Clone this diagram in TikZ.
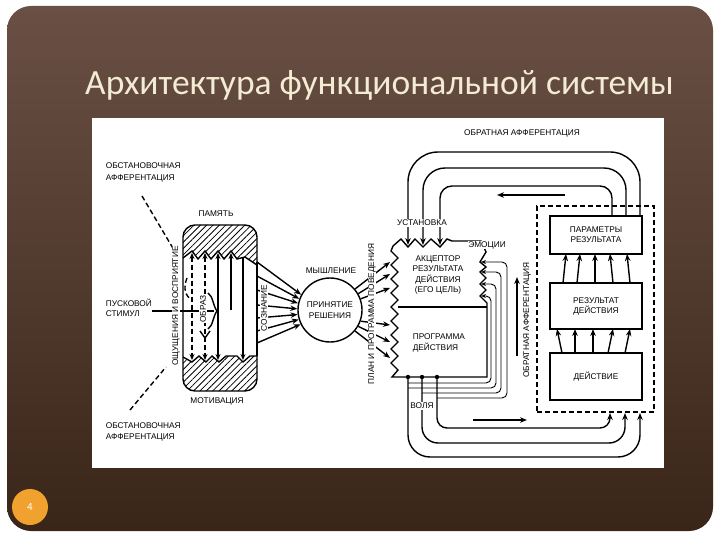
\documentclass[tikz,border=0pt]{standalone}
\usepackage{fontspec}
\setmainfont{Liberation Sans}
\newfontfamily\titlefont{Carlito}
\usetikzlibrary{arrows.meta,patterns.meta}
\definecolor{bgtop}{HTML}{6A5044}
\definecolor{bgbot}{HTML}{3A2519}
\definecolor{titlecol}{HTML}{F3EBD2}
\definecolor{numcol}{HTML}{F0A12E}
\begin{document}
\begin{tikzpicture}[x=1pt,y=-1pt,
  lbl/.style={font=\fontsize{8.3}{10.5}\selectfont, inner sep=0.6pt, align=center, text=black},
  ln/.style={line width=1.4pt, draw=black},
  thin/.style={line width=0.9pt, draw=black, -{Stealth[length=5pt,width=4pt]}},
  arr/.style={ln, -{Stealth[length=7pt,width=5.5pt]}},
  dsh/.style={ln, dash pattern=on 5pt off 3pt},
  hatch/.style={pattern={Lines[angle=45,distance=4.5pt,line width=0.8pt]}},
  wbg/.style={fill=white},
  box/.style={draw, line width=1.4pt, minimum width=92pt, inner sep=0pt, align=center, font=\fontsize{8.3}{10}\selectfont}]
\useasboundingbox (0,0) rectangle (720,540);
\fill[white] (0,0) rectangle (720,540);
\shade[top color=bgtop,bottom color=bgbot, rounded corners=24] (7,6) rectangle (713,531);
\node[text=titlecol, font=\titlefont\fontsize{35.5}{40}\selectfont, anchor=base west, inner sep=0] (title) at (85,95) {Архитектура функциональной системы};
\node[fill=white, minimum width=572pt, minimum height=350pt, inner sep=0, anchor=north west] (panel) at (92,118) {};
\node[circle, fill=numcol, minimum size=36pt, text=white, font=\titlefont\fontsize{11}{12}\selectfont] (pg) at (30,507) {4};

% ---------- memory / motivation block
\begin{scope}
\clip[rounded corners=12] (183,225) rectangle (257,391);
\fill[hatch] (180,220) -- (260,220) -- (260,265) -- (257,265) -- (245,257) -- (237,259) -- (231,251) -- (224,259) -- (218,251) -- (211,259) -- (205,251) -- (198,259) -- (192,251) -- (183,258) -- (180,258) -- cycle;
\fill[hatch] (180,395) -- (260,395) -- (260,356) -- (250,356) -- (243,362) -- (237,356) -- (226,356) -- (219,362) -- (212,356) -- (206,362) -- (199,356) -- (192,362) -- (183,357) -- (180,357) -- cycle;
\end{scope}
\draw[ln] (183,258) -- (192,251) -- (198,259) -- (205,251) -- (211,259) -- (218,251) -- (224,259) -- (231,251) -- (237,259) -- (245,257) -- (257,265);
\draw[ln] (183,357) -- (192,362) -- (199,356) -- (206,362) -- (212,356) -- (219,362) -- (226,356) -- (237,356) -- (243,362) -- (250,356) -- (257,356);
\draw[ln, rounded corners=12] (183,225) rectangle (257,391);
\coordinate (mem) at (220,308);
\node[lbl] (pam) at (216,214) {ПАМЯТЬ};
\node[lbl] (mot) at (217,401) {МОТИВАЦИЯ};

\draw[dsh, {Stealth[length=6pt,width=5pt]}-{Stealth[length=6pt,width=5pt]}] (192,253) -- (192,360);
\draw[dsh, {Stealth[length=6pt,width=5pt]}-{Stealth[length=6pt,width=5pt]}] (205,253) -- (205,360);
\draw[ln, {Stealth[length=6pt,width=5pt]}-{Stealth[length=6pt,width=5pt]}] (218,253) -- (218,360);
\draw[ln, {Stealth[length=6pt,width=5pt]}-] (231,253) -- (231,310);
\draw[ln, -{Stealth[length=6pt,width=5pt]}] (243,258) -- (243,360);
\draw[ln] (257,262) -- (257,356);

% afferent inputs
\draw[dsh] (142,196) -- (174,250);
\draw[dsh] (187,278) .. controls (183,288) and (185,296) .. (192,300);
\draw[dsh] (130,410) -- (166,367);
\draw[ln] (152,311) -- (214,311);
\draw[ln] (208,293) .. controls (213,296) and (213,306) .. (217,311) .. controls (213,316) and (213,326) .. (208,329);
\draw[ln] (200,331) -- (205,338) -- (210,331);
\node[lbl, anchor=west, align=left, font=\fontsize{8.3}{12}\selectfont] (oa1) at (105,172) {ОБСТАНОВОЧНАЯ\\АФФЕРЕНТАЦИЯ};
\node[lbl, anchor=west, align=left] (ps) at (105,308) {ПУСКОВОЙ\\СТИМУЛ};
\node[lbl, anchor=west, align=left, font=\fontsize{8.3}{11}\selectfont] (oa2) at (105,432) {ОБСТАНОВОЧНАЯ\\АФФЕРЕНТАЦИЯ};
\node[lbl, wbg, rotate=90] (osh) at (176,306) {ОЩУЩЕНИЯ И ВОСПРИЯТИЕ};
\node[lbl, wbg, rotate=90] (obr) at (203,309) {ОБРАЗ};

% ---------- decision circle
\node[circle, draw, line width=1.4pt, minimum size=64pt, inner sep=0, lbl] (dec) at (330,310) {ПРИНЯТИЕ\\РЕШЕНИЯ};
\node[lbl] (mysh) at (331,271) {МЫШЛЕНИЕ};
\foreach \y/\a in {262/152,276/160,290/168,305/178,318/188,331/197,343/206}
  \draw[arr] (257,\y) -- (dec.\a);
\node[lbl, wbg, rotate=90] (soz) at (264,308) {СОЗНАНИЕ};

% ---------- acceptor / program block
\draw[ln] (393,246) -- (401,239) -- (408,247) -- (415,239) -- (423,247) -- (431,239) -- (440,247) -- (447,239) -- (452,241) -- (481,241)
  -- (486,252) -- (480,262) -- (486,267) -- (480,272) -- (486,278) -- (480,284) -- (486,290) -- (480,296) -- (487,303) -- (487,377) -- (392,377)
  -- (398,370) -- (391,363) -- (398,356) -- (391,349) -- (398,342) -- (391,335) -- (398,328) -- (391,321) -- (398,314) -- (391,307)
  -- (398,300) -- (391,293) -- (398,286) -- (391,279) -- (398,272) -- (391,265) -- (398,258) -- (391,251) -- cycle;
\draw[ln] (398,307) -- (487,307);
\node[lbl] (acc) at (438,275) {АКЦЕПТОР\\РЕЗУЛЬТАТА\\ДЕЙСТВИЯ\\(ЕГО ЦЕЛЬ)};
\node[lbl, align=left, anchor=west] (prog) at (412,343) {ПРОГРАММА\\ДЕЙСТВИЯ};
\node[lbl, fill=white] (emo) at (487,245) {ЭМОЦИИ};

\foreach \a/\y in {40/262,30/274,20/288,-20/325,-30/342,-40/358}
  \draw[arr] (dec.\a) -- (390,\y);
\node[lbl, wbg, rotate=90] (plan) at (372,314) {ПЛАН И ПРОГРАММА ПОВЕДЕНИЯ};

% ---------- result side
\node[draw, dsh, minimum width=117pt, minimum height=206pt, inner sep=0] (dbox) at (595.5,309) {};
\node[box, minimum height=38pt] (par) at (596,235) {ПАРАМЕТРЫ\\РЕЗУЛЬТАТА};
\node[box, minimum height=46pt] (res) at (596,306) {РЕЗУЛЬТАТ\\ДЕЙСТВИЯ};
\node[box, minimum height=47pt] (act) at (596,376.5) {ДЕЙСТВИЕ};
\foreach \b/\h in {563/566,577/580,595/595,613/610,630/627}
  \draw[arr] (\b,283) -- (\h,254);
\foreach \b/\h in {562/557,575/575,593/593,608/613,625/630}
  \draw[arr] (\b,353) -- (\h,329);

% feedback loops (top)
\draw[arr, rounded corners=30] (640,216) -- (640,152) -- (408,152) -- (408,245);
\draw[arr, rounded corners=22] (626,216) -- (626,168) -- (423,168) -- (423,245);
\draw[arr, rounded corners=12] (612,216) -- (612,186) -- (440,186) -- (440,245);
\draw[arr] (565,195) -- (497,195);
\node[lbl] (oaf) at (522,133) {ОБРАТНАЯ АФФЕРЕНТАЦИЯ};
\node[lbl, wbg, fill=white] (ust) at (422,223) {УСТАНОВКА};

% efferent loops (bottom)
\draw[arr, rounded corners=22] (408,377) -- (408,457) -- (640,457) -- (640,413);
\draw[arr, rounded corners=16] (422,377) -- (422,443) -- (625,443) -- (625,413);
\draw[arr, rounded corners=10] (437,377) -- (437,428) -- (610,428) -- (610,413);
\foreach \x in {408,422,437} \fill (\x,377) circle (2.2pt);
\draw[arr] (473,420) -- (527,420);

% collaterals
\draw[thin, rounded corners=5] (408,383) -- (491,383) -- (491,296) -- (481,296);
\draw[thin, rounded corners=5] (408,388) -- (496,388) -- (496,284) -- (481,284);
\draw[thin, rounded corners=5] (422,393) -- (501,393) -- (501,272) -- (481,272);
\draw[thin, rounded corners=5] (437,398) -- (507,398) -- (507,262) -- (481,262);
\node[lbl, wbg] (vol) at (422,406) {ВОЛЯ};

\draw[arr] (517,356) -- (517,277);
\node[lbl, wbg, rotate=90] (oaf2) at (527,320) {ОБРАТНАЯ АФФЕРЕНТАЦИЯ};
\end{tikzpicture}
\end{document}
